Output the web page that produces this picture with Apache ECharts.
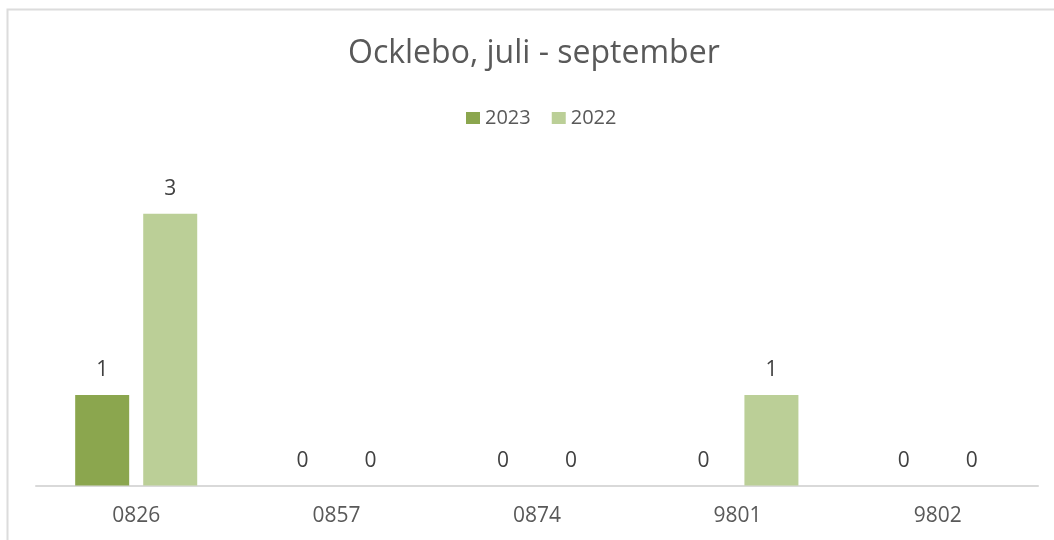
<!DOCTYPE html>
<html>
<head>
<meta charset="utf-8">
<script src="https://cdn.jsdelivr.net/npm/echarts@6/dist/echarts.min.js"></script>
<style>
html,body{margin:0;padding:0;background:#fff;}
#chart{width:1054px;height:540px;}
</style>
</head>
<body>
<div id="chart"></div>
<script>
const titleText = 'Ocklebo, juli - september';
const categories = ['0826', '0857', '0874', '9801', '9802'];
const seriesNames = ['2023', '2022'];
const values2023 = [1, 0, 0, 0, 0];
const values2022 = [3, 0, 0, 1, 0];
const colors = ['#8BA64E', '#BBCF97'];

const font = '"Open Sans", "Noto Sans", sans-serif';
const chart = echarts.init(document.getElementById('chart'), null, {renderer: 'canvas'});

const labelCfg = {
  show: true,
  position: 'top',
  distance: 14,
  color: '#404040',
  fontFamily: font,
  fontSize: 21
};

chart.setOption({
  animation: false,
  backgroundColor: '#ffffff',
  graphic: [{
    type: 'rect',
    shape: {x: 7.5, y: 9.5, width: 1100, height: 600},
    style: {fill: 'none', stroke: '#dcdcdc', lineWidth: 2},
    silent: true,
    z: -10
  }],
  title: {
    text: titleText,
    left: 343,
    top: 33,
    padding: 5,
    textStyle: {fontFamily: font, fontSize: 32, fontWeight: 'normal', color: '#595959'}
  },
  legend: {
    data: seriesNames,
    left: 466,
    top: 108,
    padding: 0,
    itemWidth: 14,
    itemHeight: 12,
    itemGap: 21,
    icon: 'rect',
    textStyle: {fontFamily: font, fontSize: 20, color: '#595959', padding: [0, 0, 0, 0]}
  },
  grid: {left: 36, right: 16, top: 168.4, bottom: 54.5, containLabel: false},
  xAxis: {
    type: 'category',
    data: categories,
    axisLine: {show: true, lineStyle: {color: '#d9d9d9', width: 2}},
    axisTick: {show: false},
    axisLabel: {margin: 20, fontFamily: font, fontSize: 21, color: '#595959'}
  },
  yAxis: {
    type: 'value',
    min: 0,
    max: 3.5,
    show: false,
    splitLine: {show: false}
  },
  series: [
    {
      name: seriesNames[0],
      type: 'bar',
      data: values2023,
      barWidth: 54,
      barGap: '26%',
      itemStyle: {color: colors[0]},
      label: labelCfg
    },
    {
      name: seriesNames[1],
      type: 'bar',
      data: values2022,
      barWidth: 54,
      barGap: '26%',
      itemStyle: {color: colors[1]},
      label: labelCfg
    }
  ]
});
</script>
</body>
</html>
